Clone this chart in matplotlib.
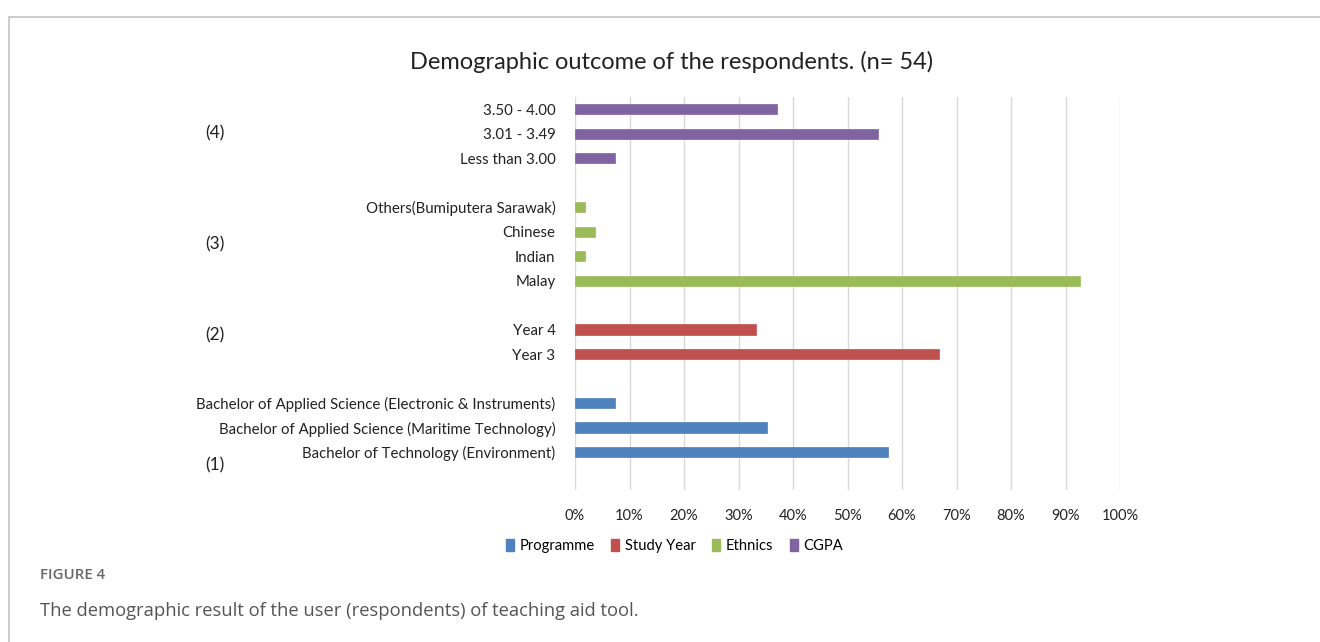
import numpy as np
import matplotlib.pyplot as plt
from matplotlib.patches import Rectangle, Patch

plt.rcParams['font.family'] = ['Lato', 'DejaVu Sans']

# Dane (procent respondentów, n = 54), od dołu do góry w każdej grupie
programme_labels = ['Bachelor of Technology (Environment)',
                    'Bachelor of Applied Science (Maritime Technology)',
                    'Bachelor of Applied Science (Electronic & Instruments)']
programme_vals = [57.4, 35.2, 7.4]

year_labels = ['Year 3', 'Year 4']
year_vals = [66.7, 33.3]

ethnic_labels = ['Malay', 'Indian', 'Chinese', 'Others(Bumiputera Sarawak)']
ethnic_vals = [92.6, 1.85, 3.7, 1.85]

cgpa_labels = ['Less than 3.00', '3.01 - 3.49', '3.50 - 4.00']
cgpa_vals = [7.4, 55.6, 37.0]

series_names = ['Programme', 'Study Year', 'Ethnics', 'CGPA']
group_tags = ['(1)', '(2)', '(3)', '(4)']
colors = ['#4F81BD', '#C0504D', '#9BBB59', '#8064A2']

groups = [(programme_labels, programme_vals),
          (year_labels, year_vals),
          (ethnic_labels, ethnic_vals),
          (cgpa_labels, cgpa_vals)]

fig = plt.figure(figsize=(13.2, 6.42), dpi=100)

# ramka wokół rysunku (bez prawej i dolnej krawędzi)
fig.patches.append(Rectangle((9 / 1320, -0.1), 1.1, 1 - 17 / 642 + 0.1,
                             transform=fig.transFigure, fill=False,
                             edgecolor='#C8C8C8', linewidth=1.3))

ax = fig.add_axes([575 / 1320, 1 - 490 / 642, 545 / 1320, (490 - 97) / 642])

pos = 0
yticks, ylabels, centers = [], [], []
for i, (labs, vals) in enumerate(groups):
    ys = np.arange(pos, pos + len(vals))
    ax.barh(ys, vals, height=0.42, color=colors[i], zorder=3,
            edgecolor=colors[i], linewidth=0.5)
    yticks += list(ys)
    ylabels += labs
    centers.append(ys.mean())
    pos += len(vals) + 1

ax.set_yticks(yticks)
ax.set_yticklabels(ylabels, fontsize=10.8, color='#222222')
ax.set_xlim(0, 100)
ax.set_ylim(-1.55, pos - 1.5)
ax.set_xticks(np.arange(0, 101, 10))
ax.set_xticklabels([f'{v}%' for v in range(0, 101, 10)], fontsize=10.5, color='#222222')
ax.tick_params(axis='both', length=0)
ax.tick_params(axis='y', pad=14)
ax.tick_params(axis='x', pad=14)
ax.grid(axis='x', color='#D9D9D9', linewidth=1, zorder=0)
for s in ax.spines.values():
    s.set_visible(False)

# oznaczenia grup (1)-(4)
tag_offsets = [-1.55, 0.25, 0.0, 0.0]
for tag, c, off in zip(group_tags, centers, tag_offsets):
    ax.text(-0.66, c + off, tag, transform=ax.get_yaxis_transform(),
            fontsize=12.5, ha='center', va='center', color='#222222')

fig.text(0.509, 1 - 62 / 642, 'Demographic outcome of the respondents. (n= 54)',
         ha='center', va='center', fontsize=17, color='#222222')

handles = [Patch(facecolor=c, edgecolor=c) for c in colors]
fig.legend(handles, series_names, loc='center', bbox_to_anchor=(0.511, 1 - 546 / 642),
           ncol=4, frameon=False, fontsize=10.6, handlelength=0.55, handleheight=0.9,
           handletextpad=0.4, columnspacing=1.1)

fig.text(40 / 1320, 1 - 575 / 642, 'FIGURE 4', fontsize=10.8, color='#666666',
         va='center', family='Open Sans', fontweight='semibold')
fig.text(40 / 1320, 1 - 611 / 642,
         'The demographic result of the user (respondents) of teaching aid tool.',
         fontsize=13.2, color='#555555', va='center', family='Open Sans')

fig.savefig('out.png', dpi=100)
